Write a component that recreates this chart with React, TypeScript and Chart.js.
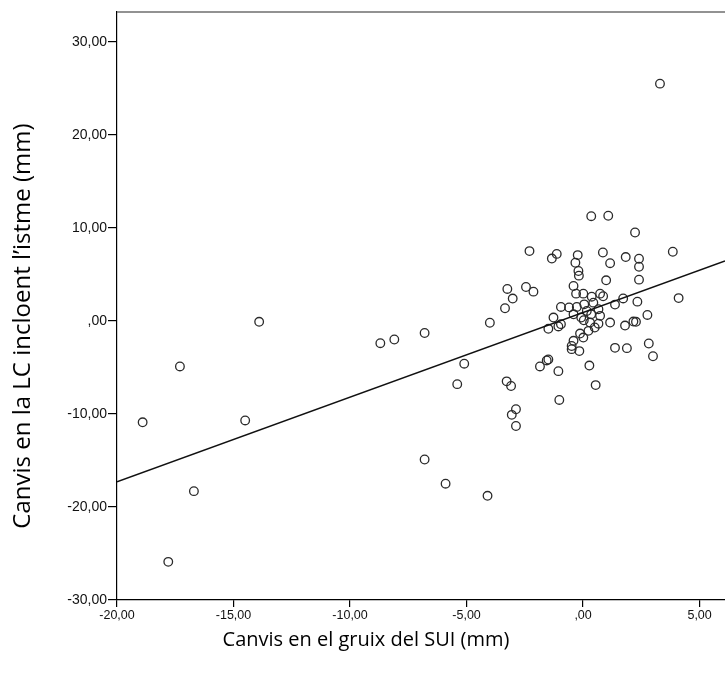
import React, { useEffect, useRef } from "react";
import { Chart, registerables } from "chart.js";

Chart.register(...registerables);

// Scatter data: change in SUI thickness (x) vs change in LC including isthmus (y), mm
const xValues: number[] = [
  3.3, -18.9, -17.3, -16.7, -17.8, -14.5, -13.9, -8.7, -8.1, -6.8, -6.8, -5.9, -5.1, -5.4, -4.1, -4.0,
  0.35, 1.08, 2.23, -2.3, -1.34, -1.13, -0.23, -0.33, 0.85, 1.16, 1.83, 2.4, 2.4, 3.85, -0.2, -0.18, 0.99, 2.4,
  -3.25, -3.02, -3.35, -2.45, -2.13, -0.41, -0.3, 0.01, 0.37, 0.73, 0.86, 0.44, 0.05, 1.37, 1.72, 2.33, 4.1,
  -0.95, -0.6, -0.27, 0.66, 0.16, -1.27, -0.41, -0.08, 0.35, 0.73, 2.76, -0.95, -1.06, -1.49, 0.03, 0.3, 0.66,
  1.16, 1.8, 2.16, 2.27, -0.13, 0.23, 0.5, 0.01, -0.41, -0.49, -0.49, -0.16, 1.37, 1.88, 2.82, 3.0,
  -1.56, -1.49, -1.85, -1.06, 0.27, -3.28, -3.09, 0.54, -1.02, -2.88, -3.06, -2.88,
];
const yValues: number[] = [
  25.5, -10.9, -4.9, -18.3, -25.9, -10.7, -0.1, -2.4, -2.0, -1.3, -14.9, -17.5, -4.6, -6.8, -18.8, -0.2,
  11.25, 11.3, 9.5, 7.5, 6.7, 7.2, 7.07, 6.25, 7.35, 6.2, 6.86, 6.68, 5.82, 7.43, 5.36, 4.86, 4.36, 4.43,
  3.43, 2.4, 1.36, 3.64, 3.14, 3.75, 2.93, 2.93, 2.6, 2.93, 2.65, 1.96, 1.78, 1.75, 2.41, 2.07, 2.45,
  1.5, 1.45, 1.5, 1.25, 1.07, 0.36, 0.71, 0.36, 0.71, 0.54, 0.64, -0.35, -0.6, -0.85, 0.07, -0.18, -0.3,
  -0.18, -0.5, -0.07, -0.1, -1.36, -1.07, -0.71, -1.79, -2.14, -2.7, -3.04, -3.25, -2.9, -2.93, -2.43, -3.8,
  -4.25, -4.15, -4.9, -5.4, -4.8, -6.5, -7.0, -6.9, -8.5, -9.5, -10.1, -11.3,
];

// Linear fit line
const fitSlope = 0.91;
const fitIntercept = 0.9;

// Axis ranges and ticks
const xMin = -20;
const xMax = 6.09;
const xStep = 5;
const yMin = -30;
const yMax = 33.2;
const yStep = 10;

const xTitle = "Canvis en el gruix del SUI (mm)";
const yTitle = "Canvis en la LC incloent l’istme (mm)";

function spssFormat(v: number): string {
  const r = Math.round(v * 100) / 100;
  if (Math.abs(r) < 1e-9) return ",00";
  const s = r.toFixed(2).replace(".", ",");
  return s.replace(/^(-?)0,/, "$1,");
}

const titlesPlugin = {
  id: "spssTitles",
  afterDraw(chart: any) {
    const ctx = chart.ctx;
    const area = chart.chartArea;
    ctx.save();
    // top frame line
    ctx.strokeStyle = "#6e6e6e";
    ctx.lineWidth = 1.5;
    ctx.beginPath();
    ctx.moveTo(area.left, area.top);
    ctx.lineTo(area.right, area.top);
    ctx.stroke();

    ctx.fillStyle = "#000";
    ctx.textAlign = "center";
    ctx.textBaseline = "middle";
    ctx.font = '20px "Open Sans", "Noto Sans", sans-serif';
    ctx.fillText(xTitle, 366, 640);

    ctx.translate(23, 326);
    ctx.rotate(-Math.PI / 2);
    ctx.font = '24px "Open Sans", "Noto Sans", sans-serif';
    ctx.fillText(yTitle, 0, 0);
    ctx.restore();
  },
};

export default function App() {
  const canvasRef = useRef<HTMLCanvasElement | null>(null);

  useEffect(() => {
    if (!canvasRef.current) return;
    const points = xValues.map((x, i) => ({ x, y: yValues[i] }));
    const fitLine = [
      { x: xMin, y: fitIntercept + fitSlope * xMin },
      { x: xMax, y: fitIntercept + fitSlope * xMax },
    ];
    const chart = new Chart(canvasRef.current, {
      type: "scatter",
      data: {
        datasets: [
          {
            type: "line" as any,
            data: fitLine,
            borderColor: "#111",
            borderWidth: 1.6,
            pointRadius: 0,
            fill: false,
            tension: 0,
          } as any,
          {
            data: points,
            pointStyle: "circle",
            pointRadius: 4.3,
            pointHoverRadius: 4.3,
            backgroundColor: "rgba(0,0,0,0)",
            borderColor: "#2a2a2a",
            borderWidth: 1.3,
          },
        ],
      },
      options: {
        responsive: false,
        animation: false,
        devicePixelRatio: 1,
        layout: { autoPadding: false, padding: { top: 12, left: 0, right: 0, bottom: 0 } },
        plugins: {
          legend: { display: false },
          tooltip: { enabled: false },
          title: { display: false },
        },
        scales: {
          x: {
            type: "linear",
            min: xMin,
            max: xMax,
            afterFit: (s: any) => {
              s.height = 80;
              s.paddingLeft = 0;
              s.paddingRight = 0;
            },
            border: { display: true, color: "#000", width: 1.2 },
            grid: {
              display: true,
              drawOnChartArea: false,
              drawTicks: true,
              tickLength: 7,
              color: "#000",
              lineWidth: 1.2,
            },
            ticks: {
              stepSize: xStep,
              includeBounds: false,
              padding: 1,
              color: "#111",
              font: { family: '"Liberation Sans", Arial, sans-serif', size: 12.5 },
              callback: (v: any) => spssFormat(Number(v)),
              maxRotation: 0,
            },
          },
          y: {
            type: "linear",
            min: yMin,
            max: yMax,
            afterFit: (s: any) => {
              s.width = 117;
            },
            border: { display: true, color: "#000", width: 1.2 },
            grid: {
              display: true,
              drawOnChartArea: false,
              drawTicks: true,
              tickLength: 9,
              color: "#000",
              lineWidth: 1.2,
            },
            ticks: {
              stepSize: yStep,
              includeBounds: false,
              padding: 1,
              color: "#111",
              font: { family: '"Liberation Sans", Arial, sans-serif', size: 14 },
              callback: (v: any) => spssFormat(Number(v)),
            },
          },
        },
      },
      plugins: [titlesPlugin],
    });
    return () => chart.destroy();
  }, []);

  return (
    <div style={{ position: "fixed", left: 0, top: 0, width: 725, height: 680, background: "#fff" }}>
      <canvas ref={canvasRef} width={725} height={680} style={{ display: "block" }} />
    </div>
  );
}
